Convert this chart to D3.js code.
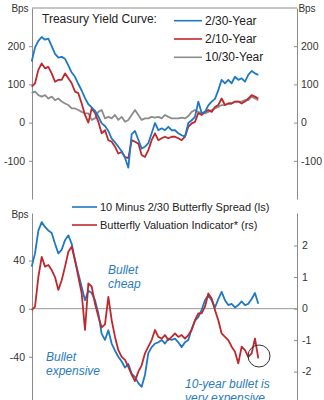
<!DOCTYPE html>
<html>
<head>
<meta charset="utf-8">
<script src="https://cdn.jsdelivr.net/npm/d3@7"></script>
<style>
  body { margin: 0; background: #fff; }
  svg { display: block; font-family: "Liberation Sans", Arial, sans-serif; }
  .axis path, .axis line { stroke: #8c8c8c; }
  .axis text { fill: #333; font-size: 10.5px; }
</style>
</head>
<body>
<div id="chart"></div>
<script>
// top panel: Treasury yield curve slopes (bps)
var curve230 = [160,197,214,224,217,220,200,180,170,172,167,150,131,120,101,84,64,48,40,31,
  16,-2,-9,-22,-42,-52,-63,-75,-92,-118,-30,-22,-45,-68,-63,-54,-28,-1,-20,-15,
  -20,-11,-20,-20,-28,-33,-37,-1,6,15,55,25,28,45,55,62,85,112,103,112,
  103,120,112,116,107,125,135,129,125];
var curve210 = [94,103,138,155,142,146,129,107,112,112,129,116,103,81,77,50,20,0,37,25,
  2,-28,-20,-46,-50,-63,-81,-77,-90,-93,-46,-50,-55,-85,-90,-72,-46,-28,-46,-41,
  -37,-41,-37,-37,-41,-46,-37,-11,-2,2,25,20,28,33,28,41,46,63,46,50,
  50,55,55,50,55,63,72,68,63];
var curve1030 = [77,81,72,68,72,63,68,59,63,55,50,46,37,37,33,28,24,24,7,11,
  28,33,11,15,11,20,7,15,2,7,20,33,20,7,11,11,15,13,15,11,
  20,15,11,11,11,13,11,17,28,33,28,24,24,28,33,37,41,46,46,50,
  50,55,55,55,59,59,68,63,59];

// bottom panel
var flySpread = [35,46,65,72,68,65,63,54,46,49,57,61,54,40,29,18,7,15,13,7,
  -4,-21,-26,-18,-29,-35,-40,-44,-49,-46,-54,-57,-62,-65,-55,-37,-32,-29,-28,-26,
  -29,-25,-26,-25,-28,-32,-28,-26,-17,-10,-7,-1,7,11,7,1,8,14,7,3,
  4,1,3,6,3,4,8,13,4];
var flyIndicator = [-0.05,0.06,1.0,1.64,1.33,1.38,1.22,1.0,0.59,0.9,1.33,1.8,1.96,1.54,1.0,0.48,-0.68,0.8,0.7,0.15,
  -0.25,-0.6,-0.5,0.37,-0.37,-0.9,-1.32,-1.53,-1.63,-1.85,-2.1,-2.3,-2.0,-1.8,-1.42,-1.21,-1.0,-0.68,-0.9,-0.95,
  -0.84,-1.0,-0.9,-0.79,-0.9,-0.84,-0.95,-0.84,-0.68,-0.37,-0.15,-0.15,0.06,0.48,0.32,-0.05,-0.37,-0.79,-0.9,-1.0,
  -1.21,-1.37,-1.74,-1.21,-1.32,-1.53,-1.42,-0.95,-1.58];

var topTicks = [200, 100, 0, -100];
var botLeftTicks = [40, 0, -40];
var botRightTicks = [2, 1, 0, -1, -2];

var topSeries = [
  {name: "2/30-Year", values: curve230, color: "#1f78c4"},
  {name: "2/10-Year", values: curve210, color: "#c0272d"},
  {name: "10/30-Year", values: curve1030, color: "#8c8c8c"}
];
var botSeries = [
  {name: "10 Minus 2/30 Butterfly Spread (ls)", color: "#1f78c4"},
  {name: "Butterfly Valuation Indicator* (rs)", color: "#c0272d"}
];

var W = 324, H = 400;
var svg = d3.select("#chart").append("svg").attr("width", W).attr("height", H);

var xL = 32, xR = 297;
var x = d3.scaleLinear().domain([0, curve230.length - 1]).range([31.7, 258.3]);
// plain hyphen for negatives, like the original
var fmt = function(d){ return String(d); };

// ---- top panel
var yTop = d3.scaleLinear().domain([-200, 300]).range([199, 8]);

svg.append("line").attr("x1", xL).attr("x2", xR).attr("y1", 8).attr("y2", 8)
  .attr("stroke", "#8c8c8c");

svg.append("g").attr("class", "axis").attr("transform", "translate(" + xL + ",0)")
  .call(d3.axisLeft(yTop).tickValues(topTicks).tickFormat(fmt).tickSize(3).tickSizeOuter(0).tickPadding(4));
svg.append("g").attr("class", "axis").attr("transform", "translate(" + xR + ",0)")
  .call(d3.axisRight(yTop).tickValues(topTicks).tickFormat(fmt).tickSize(-3).tickSizeOuter(0).tickPadding(4));

var lineTop = d3.line().x(function(d, i){ return x(i); }).y(function(d){ return yTop(d); });
// draw gray first, then red, blue on top
[2, 1, 0].forEach(function(k){
  svg.append("path").datum(topSeries[k].values)
    .attr("d", lineTop).attr("fill", "none")
    .attr("stroke", topSeries[k].color).attr("stroke-width", 1.8)
    .attr("stroke-linejoin", "round");
});

svg.append("text").attr("x", 20).attr("y", 12).attr("text-anchor", "middle")
  .attr("font-size", 10).attr("fill", "#333").text("Bps");
svg.append("text").attr("x", 307).attr("y", 12).attr("text-anchor", "middle")
  .attr("font-size", 10).attr("fill", "#333").text("Bps");

svg.append("text").attr("x", 42).attr("y", 23).attr("font-size", 12).attr("fill", "#222")
  .text("Treasury Yield Curve:");

var legTop = svg.append("g");
topSeries.forEach(function(s, i){
  var yy = 20.7 + i * 18.3;
  legTop.append("line").attr("x1", 174).attr("x2", 202).attr("y1", yy).attr("y2", yy)
    .attr("stroke", s.color).attr("stroke-width", 1.6);
  legTop.append("text").attr("x", 205).attr("y", yy + 4).attr("font-size", 12).attr("fill", "#222")
    .text(s.name);
});

// ---- bottom panel
var yBL = d3.scaleLinear().domain([-76, 79.6]).range([400, 213]);
var yBR = d3.scaleLinear().domain([-2.9, 3.03]).range([400, 213]);

svg.append("line").attr("x1", xL).attr("x2", xR).attr("y1", yBL(0)).attr("y2", yBL(0))
  .attr("stroke", "#9a9a9a");

svg.append("g").attr("class", "axis").attr("transform", "translate(" + xL + ",0)")
  .call(d3.axisLeft(yBL).tickValues(botLeftTicks).tickFormat(fmt).tickSize(3).tickSizeOuter(0).tickPadding(4));
svg.append("g").attr("class", "axis").attr("transform", "translate(" + xR + ",0)")
  .call(d3.axisRight(yBR).tickValues(botRightTicks).tickFormat(fmt).tickSize(-3).tickSizeOuter(0).tickPadding(5));

svg.append("path").datum(flySpread)
  .attr("d", d3.line().x(function(d, i){ return x(i); }).y(function(d){ return yBL(d); }))
  .attr("fill", "none").attr("stroke", botSeries[0].color).attr("stroke-width", 1.8)
  .attr("stroke-linejoin", "round");
svg.append("path").datum(flyIndicator)
  .attr("d", d3.line().x(function(d, i){ return x(i); }).y(function(d){ return yBR(d); }))
  .attr("fill", "none").attr("stroke", botSeries[1].color).attr("stroke-width", 1.8)
  .attr("stroke-linejoin", "round");

svg.append("text").attr("x", 20).attr("y", 218).attr("text-anchor", "middle")
  .attr("font-size", 10).attr("fill", "#333").text("Bps");

botSeries.forEach(function(s, i){
  var yy = 207 + i * 18;
  svg.append("line").attr("x1", 72).attr("x2", 97).attr("y1", yy).attr("y2", yy)
    .attr("stroke", s.color).attr("stroke-width", 1.6);
  svg.append("text").attr("x", 100).attr("y", yy + 4).attr("font-size", 11).attr("fill", "#222")
    .text(s.name);
});

// annotations
var notes = [
  {t: "Bullet", x: 108, y: 274},
  {t: "cheap", x: 108, y: 288},
  {t: "Bullet", x: 46, y: 361},
  {t: "expensive", x: 46, y: 375},
  {t: "10-year bullet is", x: 185, y: 388},
  {t: "very expensive", x: 185, y: 402}
];
svg.selectAll("text.note").data(notes).enter().append("text")
  .attr("class", "note").attr("x", function(d){ return d.x; }).attr("y", function(d){ return d.y; })
  .attr("font-size", 12).attr("font-style", "italic").attr("fill", "#2a7cc2")
  .text(function(d){ return d.t; });

svg.append("circle").attr("cx", 259).attr("cy", 356).attr("r", 11)
  .attr("fill", "none").attr("stroke", "#333").attr("stroke-width", 1);
</script>
</body>
</html>
